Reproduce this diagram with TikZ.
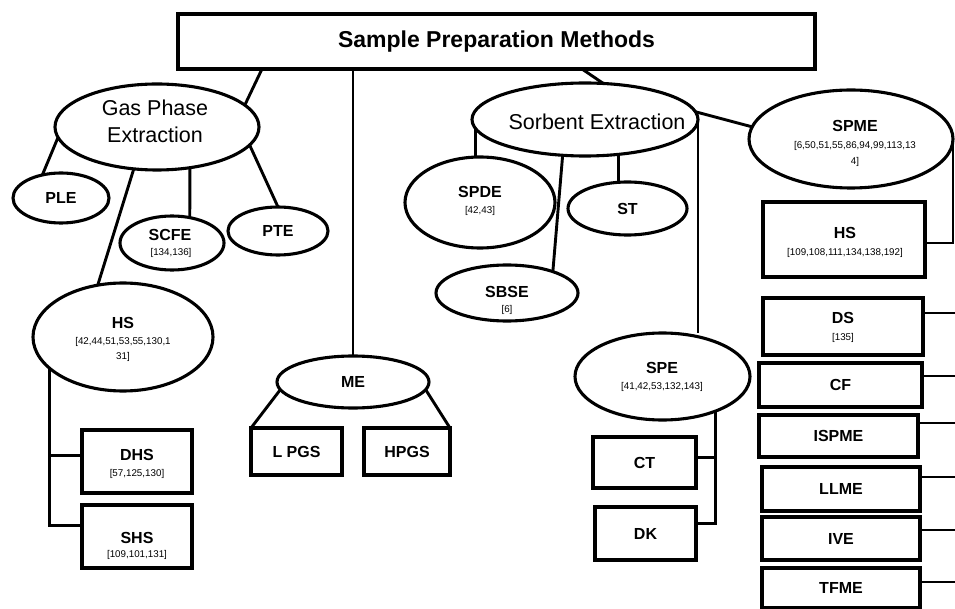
\documentclass[tikz,border=0pt]{standalone}
\usepackage{fontspec}
\setmainfont{Liberation Sans}
\usetikzlibrary{shapes.geometric,calc}
\pgfdeclarelayer{bg}
\pgfsetlayers{bg,main}
\begin{document}
\begin{tikzpicture}[x=1pt,y=-1pt,
  ell/.style={draw, ellipse, line width=3.1pt, fill=white, inner sep=0pt, outer sep=0pt},
  box/.style={draw, rectangle, line width=3.1pt, fill=white, inner sep=0pt, outer sep=0pt},
  conn/.style={line width=2.9pt},
  lab/.style={font=\fontsize{16}{18}\selectfont\bfseries, inner sep=0pt},
  refs/.style={font=\fontsize{9.8}{11}\selectfont, inner sep=0pt},
  big/.style={font=\fontsize{21.5}{26}\selectfont, inner sep=0pt},
  ttl/.style={font=\fontsize{23}{28}\selectfont\bfseries}]
\useasboundingbox (0,0) rectangle (955,609);
\begin{pgfonlayer}{bg}
\fill[white] (0,0) rectangle (955,609);
\end{pgfonlayer}

% title
\node[box, ttl, minimum width=637pt, minimum height=55pt] (title) at (496.5,41.5) {Sample Preparation Methods};

% gas phase branch
\node[ell, minimum width=204pt, minimum height=86pt] (gpe) at (157,127) {};
\node[big] (gpe-t1) at (155,108) {Gas Phase};
\node[big] (gpe-t2) at (155,135) {Extraction};
\node[ell, lab, minimum width=96pt, minimum height=50pt] (ple) at (61,198) {PLE};
\node[ell, minimum width=104pt, minimum height=54pt] (scfe) at (172,243) {};
\node[lab] (scfe-t) at (170,235) {SCFE};
\node[refs] (scfe-r) at (171,253) {[134,136]};
\node[ell, lab, minimum width=100pt, minimum height=48pt] (pte) at (278,231) {PTE};
\node[ell, minimum width=180pt, minimum height=108pt] (hs1) at (123,337) {};
\node[lab] (hs1-t) at (123,323) {HS};
\node[refs] (hs1-r1) at (123,342) {[42,44,51,53,55,130,1};
\node[refs] (hs1-r2) at (123,357) {31]};
\node[box, minimum width=110pt, minimum height=63pt] (dhs) at (137,461.5) {};
\node[lab] (dhs-t) at (137,455) {DHS};
\node[refs] (dhs-r) at (137,474) {[57,125,130]};
\node[box, minimum width=110pt, minimum height=63pt] (shs) at (137,536.5) {};
\node[lab] (shs-t) at (137,538) {SHS};
\node[refs] (shs-r) at (137,555) {[109,101,131]};

% membrane extraction
\node[ell, lab, minimum width=152pt, minimum height=52pt] (me) at (353,382) {ME};
\node[box, lab, minimum width=91pt, minimum height=47pt] (lpgs) at (296.5,451.5) {L PGS};
\node[box, lab, minimum width=86pt, minimum height=47pt] (hpgs) at (407,451.5) {HPGS};

% sorbent branch
\node[ell, minimum width=226pt, minimum height=73pt] (sor) at (585,119.5) {};
\node[big] (sor-t) at (597,122) {Sorbent Extraction};
\node[ell, minimum width=150pt, minimum height=91pt] (spde) at (480,202.5) {};
\node[lab] (spde-t) at (480,192) {SPDE};
\node[refs] (spde-r) at (480,211) {[42,43]};
\node[ell, lab, minimum width=119pt, minimum height=53pt] (st) at (627.5,208.5) {ST};
\node[ell, minimum width=142pt, minimum height=56pt] (sbse) at (507,293) {};
\node[lab] (sbse-t) at (507,292) {SBSE};
\node[refs] (sbse-r) at (507,310) {[6]};
\node[ell, minimum width=175pt, minimum height=87pt] (spe) at (662.5,376.5) {};
\node[lab] (spe-t) at (662,368) {SPE};
\node[refs] (spe-r) at (662,387) {[41,42,53,132,143]};
\node[box, lab, minimum width=103pt, minimum height=51pt] (ct) at (644.5,462.5) {CT};
\node[box, lab, minimum width=101pt, minimum height=53pt] (dk) at (645.5,533.5) {DK};

% SPME branch
\node[ell, minimum width=204pt, minimum height=98pt] (spme) at (851,139) {};
\node[lab] (spme-t) at (855,126) {SPME};
\node[refs] (spme-r1) at (855,146) {[6,50,51,55,86,94,99,113,13};
\node[refs] (spme-r2) at (855,162) {4]};
\node[box, minimum width=162pt, minimum height=75pt] (rhs) at (844,239.5) {};
\node[lab] (rhs-t) at (845,233) {HS};
\node[refs] (rhs-r) at (845,253) {[109,108,111,134,138,192]};
\node[box, minimum width=160pt, minimum height=57pt] (ds) at (843,326.5) {};
\node[lab] (ds-t) at (843,318) {DS};
\node[refs] (ds-r) at (843,338) {[135]};
\node[box, lab, minimum width=163pt, minimum height=44pt] (cf) at (840.5,385) {CF};
\node[box, lab, minimum width=159pt, minimum height=42pt] (ispme) at (838.5,436) {ISPME};
\node[box, lab, minimum width=158pt, minimum height=44pt] (llme) at (841,489) {LLME};
\node[box, lab, minimum width=158pt, minimum height=43pt] (ive) at (841,538.5) {IVE};
\node[box, lab, minimum width=158pt, minimum height=40pt] (tfme) at (841,588) {TFME};

\coordinate (rDS) at (955,313);
\coordinate (rCF) at (955,376);
\coordinate (rISPME) at (955,423);
\coordinate (rLLME) at (955,477);
\coordinate (rIVE) at (955,530);
\coordinate (rTFME) at (955,582);

\begin{pgfonlayer}{bg}
\draw[conn] ([xshift=84pt]title.south west) -- (gpe.14);
\draw[conn] (title.south -| me.north) -- (me.north);
\draw[conn] ([xshift=404pt]title.south west) -- (sor.63);
\draw[conn] (sor.4) -- (spme.173);
\draw[conn] (gpe.186) -- (ple.129);
\draw[conn] (gpe.-51) -- (scfe.55);
\draw[conn] (gpe.-11) -- (pte.north);
\draw[conn] (gpe.241) -- (hs1.116);
\draw[conn] (hs1.203) |- ([yshift=6pt]dhs.west);
\draw[conn] (hs1.203) |- ([yshift=11pt]shs.west);
\draw[conn] (me.186) -- (lpgs.north west);
\draw[conn] (me.-6) -- (hpgs.north east);
\draw[conn] (sor.185) -- (sor.185 |- spde.north);
\draw[conn] (sor.-46) -- (sor.-46 |- st.north);
\draw[conn] (sor.238) -- (sbse.25);
\draw[conn] (sor.east) -- (sor.east |- spe.north);
\draw[conn] (spe.-33) |- ([yshift=5pt]ct.east);
\draw[conn] (spe.-33) |- ([yshift=10pt]dk.east);
\draw[conn] (spme.east) |- ([yshift=-3.5pt]rhs.east);
\draw[conn] (rDS) -- (rDS -| ds.east);
\draw[conn] (rCF) -- (rCF -| cf.east);
\draw[conn] (rISPME) -- (rISPME -| ispme.east);
\draw[conn] (rLLME) -- (rLLME -| llme.east);
\draw[conn] (rIVE) -- (rIVE -| ive.east);
\draw[conn] (rTFME) -- (rTFME -| tfme.east);
\end{pgfonlayer}
\end{tikzpicture}
\end{document}
